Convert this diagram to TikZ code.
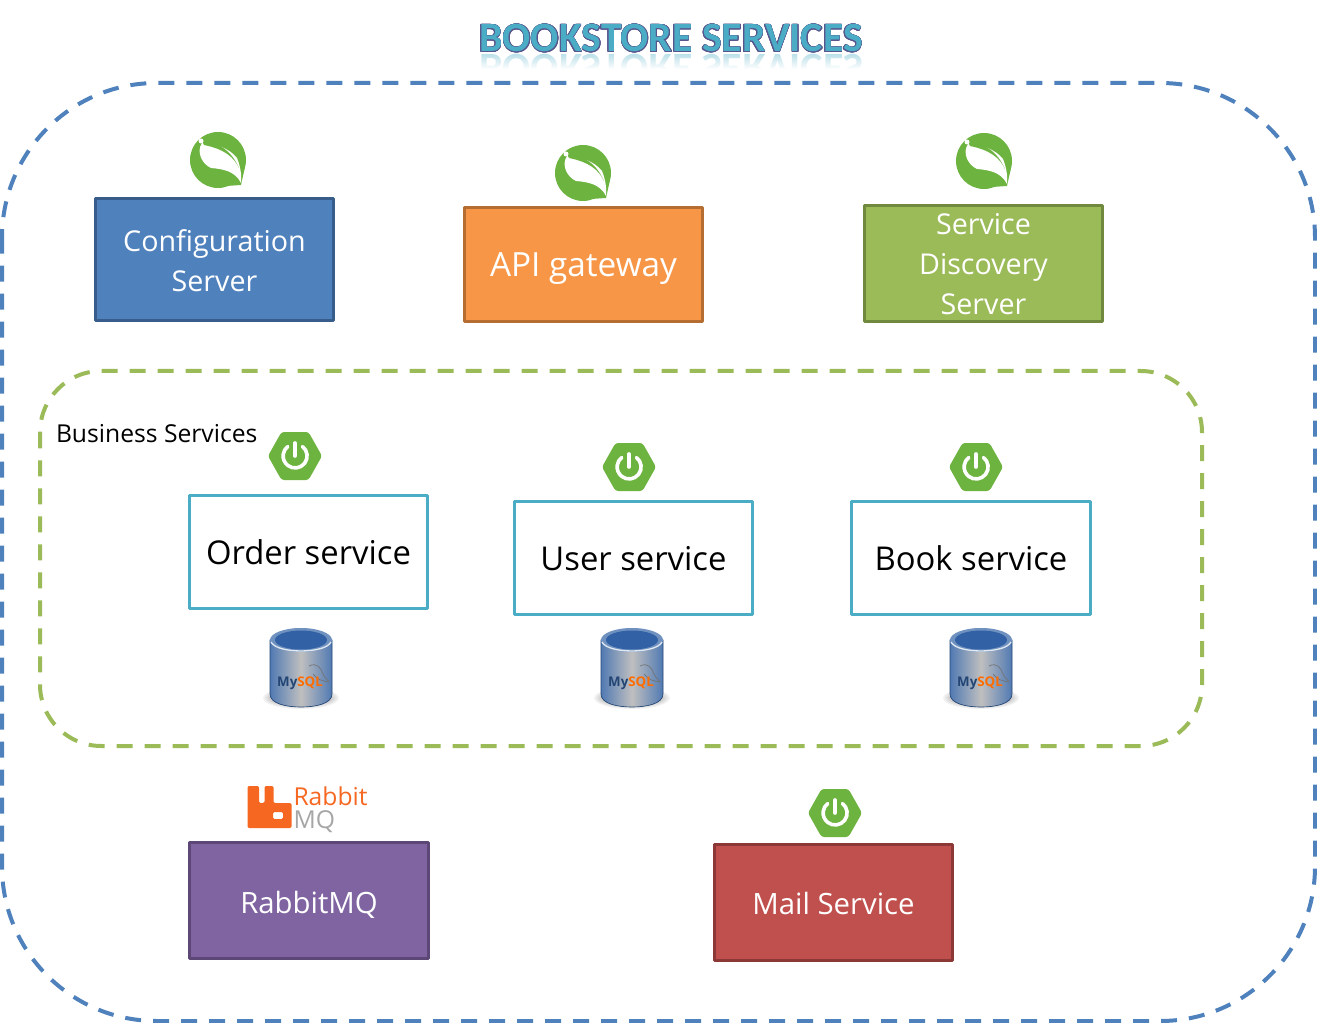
\documentclass[tikz,border=0pt]{standalone}
\usepackage{fontspec}
\usepackage{contour}
\setmainfont{Open Sans}
\newfontfamily\titlefont{Carlito}
\usetikzlibrary{fadings}
\contourlength{0.4pt}

\definecolor{outerblue}{RGB}{79,129,189}
\definecolor{edgeblue}{RGB}{56,93,138}
\definecolor{orangefill}{RGB}{247,150,70}
\definecolor{orangeedge}{RGB}{182,109,49}
\definecolor{greenfill}{RGB}{155,187,89}
\definecolor{greenedge}{RGB}{113,137,63}
\definecolor{tealedge}{RGB}{75,172,198}
\definecolor{purplefill}{RGB}{128,100,162}
\definecolor{purpleedge}{RGB}{92,71,118}
\definecolor{redfill}{RGB}{192,80,77}
\definecolor{rededge}{RGB}{140,56,54}
\definecolor{titleedge}{RGB}{88,84,140}
\definecolor{springgreen}{RGB}{109,179,63}
\definecolor{rabbitorange}{RGB}{246,104,34}
\definecolor{canblue}{RGB}{50,98,165}

\newcommand\lowertext[2]{\raisebox{-#1}[\height][\depth]{#2}}

\tikzset{every picture/.style={line width=0.75pt},
  every pic/.style={yscale=-1},
  svcbox/.style={draw,line width=2.25pt,line join=round,minimum width=179pt,minimum height=86pt,inner sep=0pt,align=center,
    text=white,font=\fontsize{22}{30}\selectfont},
  bizbox/.style={svcbox,draw=tealedge,fill=white,text=black,minimum height=85pt,font=\fontsize{24.6}{30}\selectfont},
  leaf icon/.pic={
    \fill [springgreen] (0,0) circle [radius=28];
    \fill [springgreen] (27,7) -- (23,25) -- (8,26) -- cycle ;
    \fill [white] (-16,-17) .. controls (-22,-8) and (-16,4) .. (-7,8) .. controls (5,9) and (17,11) .. (23,23) .. controls (24,12) and (21,3) .. (19,-2) .. controls (11,-12) and (-2,-16) .. (-16,-17) -- cycle ;
    \fill [springgreen] (-16,-19) .. controls (0,-18) and (13,-10) .. (21,8) .. controls (16,-3) and (6,-11) .. (-14,-15) -- cycle ;
    \fill [white] (-17,-19) circle [radius=2.5];
  },
  boot icon/.pic={
    \fill [springgreen,rounded corners=2pt] (-27,0) -- (-13.5,-24) -- (13.5,-24) -- (27,0) -- (13.5,24) -- (-13.5,24) -- cycle ;
    \draw [white,line width=2.7pt,line cap=round] (7.5,-9.5) arc [start angle=-52,end angle=232,radius=12];
    \draw [white,line width=2.7pt,line cap=round] (0,-13) -- (0,0) ;
  },
  mysql can/.pic={
    \foreach \r in {0,...,7} {
      \fill [black,opacity=0.05] (0,30) ellipse [x radius=38-2*\r,y radius=11-\r];
    }
    \path [left color=canblue!85,right color=canblue!85,middle color=black!25,draw=canblue!70!black,line width=0.5pt]
      (-31,-28) -- (-31,26) .. controls (-31,36) and (-14,39) .. (0,39) .. controls (14,39) and (31,36) .. (31,26) -- (31,-28) -- cycle ;
    \fill [canblue!70] (0,-28) ellipse [x radius=31,y radius=12];
    \draw [white!85!canblue,line width=1pt] (-30,-26) .. controls (-24,-14) and (24,-14) .. (30,-26) ;
    \fill [canblue] (0,-28) ellipse [x radius=26,y radius=9.5];
    \draw [black!55,line width=0.5pt] (8,-2) .. controls (16,-6) and (20,0) .. (22,6) .. controls (24,10) and (27,12) .. (28,14) .. controls (22,13) and (16,12) .. (12,6) ;
    \node (mysqllogo) at (-1,15) [inner sep=0pt,font=\bfseries\fontsize{10}{10}\selectfont] {\textcolor{canblue!70!black}{My}\textcolor{orange!85!red}{SQL}};
  },
}

\begin{document}
\begin{tikzpicture}[x=0.75pt,y=0.75pt,yscale=-1,xscale=1]
\useasboundingbox (0,0) rectangle (1317,1023);

% title
\begin{scope}
\clip (470,53) rectangle (875,69);
\node (titlemirror) at (671,55) [anchor=base,transform shape,inner sep=0pt,text=tealedge!40,font=\titlefont\bfseries\fontsize{31.3}{32}\selectfont] {BOOKSTORE SERVICES};
\fill [white,path fading=north] (470,53) rectangle (875,69);
\end{scope}
\node (title) at (671,52) [anchor=base,inner sep=0pt,text=tealedge,font=\titlefont\bfseries\fontsize{31.3}{32}\selectfont] {\contour{titleedge}{BOOKSTORE SERVICES}};

% frames
\draw [outerblue,line width=3pt,dash pattern=on 12pt off 9pt,rounded corners=116pt] (2,83) rectangle (1315,1021);
\draw [greenfill,line width=3pt,dash pattern=on 12pt off 9pt,rounded corners=46pt] (40,371) rectangle (1202,746);

% top row
\node (confserver) at (214.5,259.5) [svcbox,fill=outerblue,draw=edgeblue,minimum height=91pt,font=\fontsize{21.5}{30}\selectfont] {\lowertext{0.75pt}{Configuration}\\\lowertext{0.75pt}{Server}};
\node (apigateway) at (583.5,264.5) [svcbox,fill=orangefill,draw=orangeedge,font=\fontsize{25}{30}\selectfont] {\lowertext{3pt}{API gateway}};
\node (discserver) at (983.5,263.5) [svcbox,fill=greenfill,draw=greenedge,minimum height=87pt,font=\fontsize{21.5}{30}\selectfont] {\lowertext{0.75pt}{Service}\\\lowertext{0.75pt}{Discovery}\\\lowertext{0.75pt}{Server}};

\pic at (218,160) {leaf icon};
\pic at (583,173) {leaf icon};
\pic at (984,161) {leaf icon};

% business services
\node (bizlabel) at (55.5,434) [anchor=west,inner sep=0pt,font=\fontsize{18.5}{20}\selectfont] {Business Services};
\node (orderservice) at (308.5,552) [bizbox] {Order service};
\node (userservice) at (633.5,558) [bizbox] {\lowertext{0.75pt}{User service}};
\node (bookservice) at (971,558) [bizbox] {Book service};

\pic at (295,456) {boot icon};
\pic at (629,467) {boot icon};
\pic at (976,467) {boot icon};

\pic at (301,668) {mysql can};
\pic at (632,668) {mysql can};
\pic at (981,668) {mysql can};

% bottom row
\node (rabbitbox) at (309,900.5) [svcbox,fill=purplefill,draw=purpleedge,minimum height=87pt] {\lowertext{3pt}{RabbitMQ}};
\node (mailservice) at (833.5,902.5) [svcbox,fill=redfill,draw=rededge,minimum height=87pt] {\lowertext{0.75pt}{Mail Service}};

\pic at (835,813) {boot icon};

\fill [rabbitorange,rounded corners=1pt,even odd rule] (247.5,786) -- (259,786) -- (259,803) -- (264.5,803) -- (264.5,786) -- (273.5,786) -- (273.5,803) -- (291.5,803) -- (291.5,828) -- (247.5,828) -- cycle (273,812) -- (283,812) -- (283,819) -- (273,819) -- cycle ;
\node (rabbitword) at (293,805) [anchor=base west,inner sep=0pt,text=rabbitorange,font=\fontsize{18.5}{18.5}\selectfont] {Rabbit};
\node (mqword) at (293,828) [anchor=base west,inner sep=0pt,text=black!35,font=\fontsize{18.5}{18.5}\selectfont] {MQ};

\end{tikzpicture}
\end{document}
